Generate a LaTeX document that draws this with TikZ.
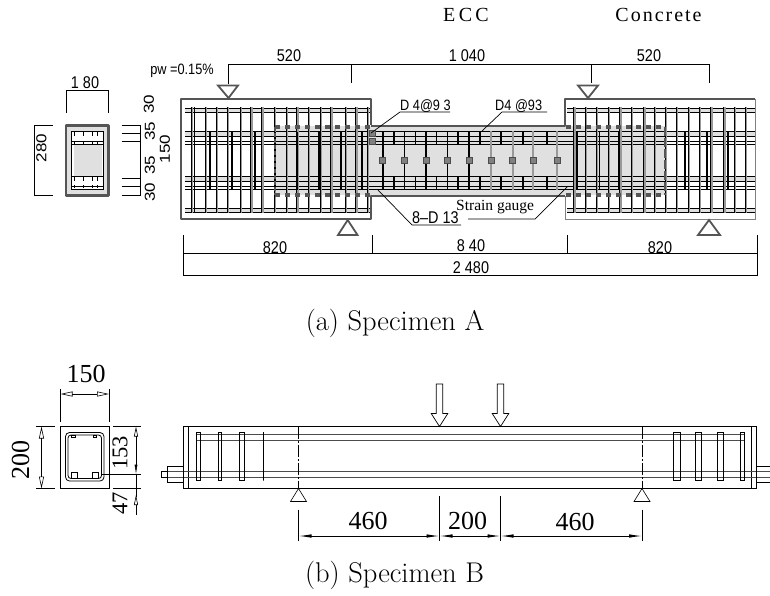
\documentclass[tikz,border=0pt]{standalone}
\usepackage{fontspec}
\usetikzlibrary{arrows.meta}
\newfontfamily\dimfont{Liberation Sans}
\newfontfamily\timesfont{Liberation Serif}
\definecolor{wallgray}{HTML}{555555}
\definecolor{eccgray}{HTML}{E0E0E0}
\begin{document}
\begin{tikzpicture}[x=1pt, y=-1pt]
	\tikzstyle{dimtext}  = [inner sep=0pt, font=\dimfont\fontsize{17}{17}\selectfont, xscale=0.85]
	\tikzstyle{smalltext} = [inner sep=0pt, font=\dimfont\fontsize{15}{15}\selectfont, xscale=0.85]
	\tikzstyle{serif}    = [inner sep=0pt, font=\timesfont\fontsize{26}{26}\selectfont]
	\tikzstyle{headtext} = [inner sep=0pt, font=\timesfont\fontsize{20}{20}\selectfont]
	\tikzstyle{caption}  = [inner sep=0pt, font=\fontsize{28.5}{29}\selectfont]
	\tikzstyle{wall}     = [draw=wallgray, line width=2pt, line join=round]
	\tikzstyle{bar}      = [line width=0.8pt]
	\tikzstyle{graybar}  = [draw=gray!80, line width=1.7pt]
	\tikzstyle{dimline}  = [line width=0.7pt]
	\tikzstyle{gaugebox} = [rectangle, minimum size=6pt, inner sep=0pt, draw=black!70, fill=gray, line width=0.6pt]
	\tikzstyle{loadmark} = [draw=wallgray, line width=1.8pt, line join=miter]
	\tikzstyle{openarrow} = [line width=0.6pt, {Triangle[open,length=12pt,width=5pt]}-{Triangle[open,length=12pt,width=5pt]}]
	\tikzstyle{wedgearrow} = [line width=0.9pt, {Latex[length=13pt,width=3.5pt]}-{Latex[length=13pt,width=3.5pt]}]

	\useasboundingbox (0,0) rectangle (770,595);

	% specimen A, elevation
	\fill[eccgray] (275,126) rectangle (665,195);
	\foreach \ya/\yb in {108.5/112.5, 131.5/136.5, 176.5/181.5, 208.5/212.5}
		\fill[eccgray] (185,\ya) rectangle (370,\yb) (567,\ya) rectangle (755,\yb);
	\draw[wall] (371,125) -- (371,99) -- (180.5,99) -- (180.5,219) -- (371,219) -- (371,195.5) -- (565,195.5);
	\draw[wall] (371,125.5) -- (565,125.5) -- (565,99) -- (755,99);
	\draw[draw=gray, line width=0.9pt] (755,99) -- (755,219) -- (565,219) -- (565,195.5);

	\foreach \y in {131.5,136.5,141.5,144,176.5,181.5,186.5,189.5}
		\draw[bar, line width=0.7pt] (185,\y) -- (755,\y);
	\foreach \y in {108.5,112.5,208.5,212.5}
		\draw[bar, line width=0.7pt] (185,\y) -- (370,\y) (567,\y) -- (755,\y);

	% stirrups of the end blocks
	\foreach \x in {191,205,216,227,240,250.5,261.5,274,286,296.5,308,320,330.5,345,355.5,367}
		\draw[graybar] (\x+1.2,107) -- (\x+1.2,213);
	\foreach \x in {573.5,585,596,608,619.5,631,643.5,654,665,676,688,699,710.5,723.5,734,745}
		\draw[graybar] (\x+1.2,107) -- (\x+1.2,213);
	\foreach \x in {191,194,205,216,227,240,250.5,261.5,274,286,296.5,308,320,330.5,345,355.5,367}
		\draw[bar] (\x,107) -- (\x,213);
	\foreach \x in {573.5,585,596,608,619.5,631,643.5,654,665,676,688,699,710.5,723.5,734,745}
		\draw[bar] (\x,107) -- (\x,213);
	\foreach \x in {210,232,255,275,297.5,319,341,362,577,599.5,619,685,707,728}
		\draw[bar, line width=1.1pt] (\x,131.5) -- (\x,189.5);

	% stirrups of the ECC part
	\foreach \x in {394,415.5,436.5,458,480,501,523,547}
		\draw[bar, line width=1.2pt] (\x,131) -- (\x,144) (\x,176.5) -- (\x,189.5);
	\foreach \x in {383,404.5,426,447.5,469}
		\draw[bar, line width=1.4pt] (\x,131) -- (\x,189.5);
	\foreach \x in {491,512.5,533,556.5}
		\draw[graybar, line width=2pt] (\x,131) -- (\x,189.5);

	\foreach \name/\x/\y in {ga/372.5/133.5, gb/372.5/141.5, gc/382.5/160, gd/404.5/160, ge/426/160, gf/447.5/160, gg/469/160, gh/491/160, gi/512.5/160, gj/533/160, gk/557/160}
		\node[gaugebox] (\name) at (\x,\y) {};

	% dashed edge of the ECC part
	\draw[draw=wallgray, line width=4pt, dash pattern=on 5pt off 5pt] (275,127) -- (371,127) (275,195) -- (371,195) (566,127) -- (664,127) (566,195) -- (664,195);
	\draw[draw=wallgray, line width=1.8pt, dash pattern=on 4pt off 2pt] (275,127) -- (275,195);
	\draw[draw=wallgray, line width=2.4pt, dash pattern=on 9pt off 2pt] (665,127) -- (665,195);

	% load points and supports
	\draw[loadmark] (218,85.5) -- (238,85.5) -- (228.5,98) -- cycle;
	\draw[loadmark] (578,85.5) -- (598,85.5) -- (588,98) -- cycle;
	\draw[loadmark] (338,235) -- (357.5,235) -- (347.7,220) -- cycle;
	\draw[loadmark] (698,235) -- (720,235) -- (709,220) -- cycle;

	% dimensions of specimen A
	\draw[dimline] (228.5,84) -- (228.5,64.5) -- (709,64.5) -- (709,83);
	\draw[dimline] (351,64.5) -- (351,83);
	\draw[dimline] (591,64.5) -- (591,83);
	\draw[dimline] (183.5,235) -- (183.5,275) -- (757,275) -- (757,235);
	\draw[dimline] (183.5,253) -- (757,253);
	\draw[dimline] (372.5,235) -- (372.5,253);
	\draw[dimline] (567,235) -- (567,253);

	\foreach \name/\x/\y/\label in {la/289/56/520, lb/467/56/1 040, lc/649/56/520, ld/275/248/820, le/471/246/8 40, lf/660/248/820, lg/471/268/2 480, lh/85/83/1 80}
		\node[dimtext] (\name) at (\x,\y) {\label};
	\node[smalltext] (pw) at (182,71) {pw =0.15\%};
	\node[headtext] (ecc) at (466,15) {E\,C\,C};
	\node[headtext] (conc) at (658.5,15) {C\hspace{.1em}o\hspace{.1em}n\hspace{.1em}c\hspace{.1em}r\hspace{.1em}e\hspace{.1em}t\hspace{.1em}e};

	\foreach \name/\x/\y/\label in {ra/149/104/30, rb/150/131/35, rc/150/165/35, rd/150/192/30, re/165/149/150, rf/41.5/148/280}
		\node[dimtext, rotate=90] (\name) at (\x,\y) {\label};

	% labels with leaders
	\node[smalltext, anchor=base west] (dfour) at (400,110) {D 4@9 3};
	\node[smalltext, anchor=base west] (dthree) at (495,110) {D4 @93};
	\node[dimtext, anchor=base west] (mainbar) at (412,223) {8–D 13};
	\node[inner sep=0pt, font=\timesfont\fontsize{15.5}{16}\selectfont, anchor=base west] (gauge) at (456,210.5) {Strain gauge};
	\coordinate (dfourfoot) at (371,133);
	\coordinate (dthreefoot) at (482,131);
	\coordinate (mainfoot) at (378,190);
	\coordinate (gaugefoot) at (567,187);
	\coordinate (gaugestart) at (468,219);
	\coordinate (gaugeknee) at (535,219);
	\draw[dimline] (dfourfoot) -- (400,112) -- (450,112);
	\draw[dimline] (dthreefoot) -- (502,112) -- (547,112);
	\draw[dimline] (mainfoot) -- (412,225) -- (461,225);
	\draw[dimline] (gaugestart) -- (gaugeknee) -- (gaugefoot);

	% section of specimen A
	\draw[wall, line width=2.2pt, fill=eccgray] (66,125.5) rectangle (108.5,195.5);
	\draw[bar, fill=white] (71.5,131) rectangle (103.5,189);
	\fill[eccgray] (73.5,145) rectangle (102,176);
	\foreach \y in {141.5,144,176.5,186.5}
		\draw[bar, line width=0.7pt] (71.5,\y) -- (103.5,\y);
	\foreach \x in {74,83,92,97}
		\draw[bar] (\x,132) -- (\x,136) (\x,141) -- (\x,144) (\x,177) -- (\x,181) (\x,185) -- (\x,188);
	\draw[dimline] (66,112.5) -- (66,90.5) -- (108.5,90.5) -- (108.5,112.5);
	\draw[dimline] (52.5,125) -- (34,125) -- (34,195) -- (52.5,195);
	\draw[dimline] (140.5,125) -- (140.5,195);
	\foreach \y in {125,133.5,141.5,178.5,186.5,195}
		\draw[dimline] (121.5,\y) -- (140.5,\y);

	\node[caption] (capa) at (395,323) {(a) Specimen A};

	% specimen B, elevation
	\draw[line width=0.8pt] (183.5,426.5) rectangle (756.5,488.5);
	\draw[line width=0.8pt] (188.5,426.5) -- (188.5,488.5) (751.5,426.5) -- (751.5,488.5);
	\foreach \y in {434,440}
		\draw[draw=black!70, line width=0.9pt] (196.5,\y) -- (745,\y);
	\foreach \y in {471.5,477}
		\draw[draw=black!70, line width=0.9pt] (161.5,\y) -- (770,\y);
	\draw[line width=0.6pt] (161.5,471.5) rectangle (167,477);
	\draw[line width=0.6pt] (167,466) rectangle (183.5,482.5);
	\draw[line width=0.6pt] (770,466) -- (756.5,466) -- (756.5,482.5) -- (770,482.5);
	\foreach \xa/\xb in {196.5/200, 218/221, 239.5/244.5, 263.5/263.5, 673.5/680, 695.5/701.5, 717/723, 740.5/744.5}
		\draw[line width=0.8pt] (\xa,432) rectangle (\xb,480.5);
	\foreach \x in {298.5,642}
		\draw[line width=0.7pt, dash pattern=on 12pt off 2pt on 2pt off 2pt] (\x,426.5) -- (\x,488.5);

	% loads and supports of specimen B
	\foreach \x in {439.5,500.5}
		\draw[line width=0.7pt, fill=white] (\x-3.3,384) -- (\x+3.3,384) -- (\x+3.3,413.5) -- (\x+8.3,413.5) -- (\x,426.5) -- (\x-8.3,413.5) -- (\x-3.3,413.5) -- cycle;
	\foreach \x in {298.5,642}
		\draw[line width=0.6pt] (\x-8,501.5) -- (\x+8,501.5) -- (\x,488.5) -- cycle;

	% dimensions of specimen B
	\coordinate (spana) at (298.5,536);
	\coordinate (spanb) at (439.5,536);
	\coordinate (spanc) at (500.5,536);
	\coordinate (spand) at (642,536);
	\draw[wedgearrow] (spana) -- (spanb);
	\draw[wedgearrow] (spanb) -- (spanc);
	\draw[wedgearrow] (spanc) -- (spand);
	\draw[dimline] (298.5,509.5) -- (298.5,541);
	\draw[dimline] (439.5,496) -- (439.5,541);
	\draw[dimline] (500.5,496) -- (500.5,541);
	\draw[dimline] (642,509.5) -- (642,541);

	\foreach \name/\x/\y/\label in {ta/368/521/460, tb/467.5/521/200, tc/575/522/460, td/86/374/150}
		\node[serif] (\name) at (\x,\y) {\label};
	\node[serif, rotate=90] (tf) at (20.5,460) {200};
	\foreach \name/\x/\y/\label in {tg/120/453/153, th/120/503/47}
		\node[serif, rotate=90, font=\timesfont\fontsize{22.5}{23}\selectfont] (\name) at (\x,\y) {\label};

	% section of specimen B
	\draw[line width=0.7pt] (60.5,426.5) rectangle (109,488.5);
	\draw[line width=0.8pt, rounded corners=4pt] (65.5,432.5) rectangle (104,481);
	\draw[line width=0.8pt, rounded corners=3pt] (68,435) rectangle (101.5,478.5);
	\foreach \x/\y in {71/472, 92.5/472}
		\draw[line width=0.6pt] (\x,\y) rectangle +(6,6);
	\foreach \x/\y in {71.5/435, 93/435}
		\draw[line width=0.6pt] (\x,\y) rectangle +(3.5,2.5);
	\coordinate (wida) at (60.5,394);
	\coordinate (widb) at (109,394);
	\coordinate (higa) at (41.5,426.5);
	\coordinate (higb) at (41.5,488.5);
	\coordinate (upa) at (136,426.5);
	\coordinate (upb) at (136,474.5);
	\coordinate (lowb) at (136,515);
	\draw[openarrow] (wida) -- (widb);
	\draw[openarrow] (higa) -- (higb);
	\draw[line width=0.6pt, {Triangle[open,length=10pt,width=4pt]}-{Latex[length=10pt,width=3pt]}] (upa) -- (upb);
	\draw[line width=0.6pt, -{Triangle[open,length=10pt,width=4pt,reversed]}] (upb) -- (136,505);
	\draw[dimline] (136,505) -- (lowb);
	\draw[dimline] (60.5,389) -- (60.5,421.5) (109,389) -- (109,421.5);
	\draw[dimline] (36,426.5) -- (55,426.5) (36,488.5) -- (55,488.5);
	\draw[dimline] (113,426.5) -- (140.5,426.5) (101.5,474.5) -- (140.5,474.5) (113,488.5) -- (140.5,488.5);

	\node[caption] (capb) at (394.5,575) {(b) Specimen B};
\end{tikzpicture}
\end{document}
